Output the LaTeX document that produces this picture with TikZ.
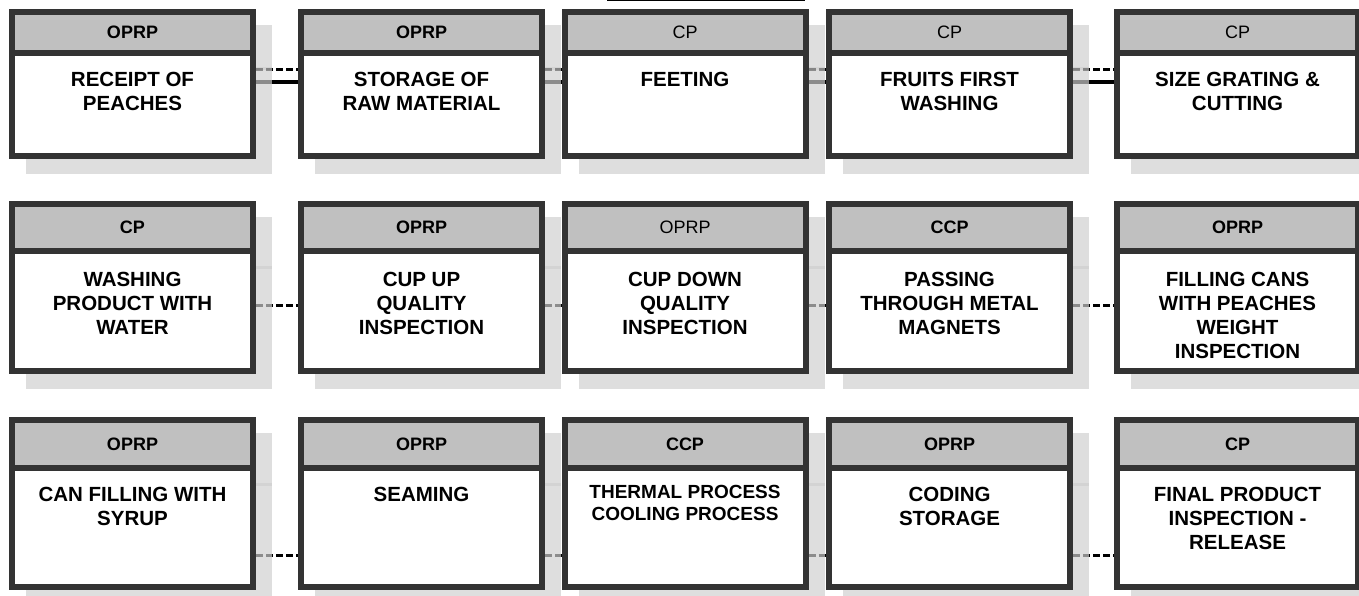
\documentclass[tikz,border=0pt]{standalone}
\usepackage{fontspec}
\setmainfont{Liberation Sans}
\usetikzlibrary{positioning,backgrounds,calc}
\definecolor{boxline}{RGB}{51,51,51}
\definecolor{headgray}{RGB}{192,192,192}
\tikzset{
  stepbox/.style={draw=boxline, line width=6pt, fill=white, minimum width=241pt, inner sep=0pt},
  headbox/.style={draw=boxline, line width=6pt, fill=headgray, minimum width=241pt, inner sep=0pt,
    anchor=north, font=\fontsize{18}{20}\selectfont},
  bodytext/.style={align=center, inner sep=0pt, font=\fontsize{20.5}{24}\selectfont\bfseries},
  smalltext/.style={bodytext, font=\fontsize{19}{22.5}\selectfont\bfseries},
  shadowfill/.style={fill=black!19, opacity=0.68},
  shadowband/.style={draw=black, line width=3pt, opacity=0.05},
  dashlink/.style={line width=3pt, dash pattern=on 7pt off 3pt},
  solidlink/.style={line width=3.5pt}
}

\begin{document}
\begin{tikzpicture}[x=1pt, y=-1pt]
  \useasboundingbox (0,0) rectangle (1359,596);
  \draw[line width=1.5pt] (607,0.75) -- (805,0.75);
  % first row
  \foreach \n/\x/\hd/\txt in {
      recv/132.5/\textbf{OPRP}/{RECEIPT OF\\PEACHES},
      store/421.5/\textbf{OPRP}/{STORAGE OF\\RAW MATERIAL},
      feet/685/CP/{FEETING},
      firstwash/949.5/CP/{FRUITS FIRST\\WASHING},
      cut/1237.5/CP/{SIZE GRATING \&\\CUTTING}} {
    \node[stepbox, minimum height=144pt] (\n) at (\x,84) {};
    \node[headbox, minimum height=41pt] (\n-h) at (\n.north) {\hd};
    \node[bodytext, below=16pt of \n-h] (\n-t) {\txt};
  }
  % second row
  \foreach \n/\x/\hd/\txt in {
      prodwash/132.5/\textbf{CP}/{WASHING\\PRODUCT WITH\\WATER},
      cupup/421.5/\textbf{OPRP}/{CUP UP\\QUALITY\\INSPECTION},
      cupdown/685/OPRP/{CUP DOWN\\QUALITY\\INSPECTION},
      magnet/949.5/\textbf{CCP}/{PASSING\\THROUGH METAL\\MAGNETS},
      cans/1237.5/\textbf{OPRP}/{FILLING CANS\\WITH PEACHES\\WEIGHT\\INSPECTION}} {
    \node[stepbox, minimum height=167pt] (\n) at (\x,287.5) {};
    \node[headbox, minimum height=47pt] (\n-h) at (\n.north) {\hd};
    \node[bodytext, below=18pt of \n-h] (\n-t) {\txt};
  }
  % third row
  \foreach \n/\x/\hd/\txt in {
      syrup/132.5/\textbf{OPRP}/{CAN FILLING WITH\\SYRUP},
      seam/421.5/\textbf{OPRP}/{SEAMING},
      coding/949.5/\textbf{OPRP}/{CODING\\STORAGE},
      release/1237.5/\textbf{CP}/{FINAL PRODUCT\\INSPECTION -\\RELEASE}} {
    \node[stepbox, minimum height=167pt] (\n) at (\x,503.5) {};
    \node[headbox, minimum height=48pt] (\n-h) at (\n.north) {\hd};
    \node[bodytext, below=16pt of \n-h] (\n-t) {\txt};
  }
  \node[stepbox, minimum height=167pt] (thermal) at (685,503.5) {};
  \node[headbox, minimum height=48pt] (thermal-h) at (thermal.north) {\textbf{CCP}};
  \node[smalltext, below=14pt of thermal-h] (thermal-t) {THERMAL PROCESS\\COOLING PROCESS};
  \begin{pgfonlayer}{background}
    \foreach \a/\b in {recv/store, store/feet, feet/firstwash, firstwash/cut} {
      \draw[dashlink] (\a.east |- 0,70) -- (\b.west |- 0,70);
      \draw[solidlink] (\a.east |- 0,82) -- (\b.west |- 0,82);
    }
    \foreach \a/\b in {prodwash/cupup, cupup/cupdown, cupdown/magnet, magnet/cans}
      \draw[dashlink] (\a.east |- 0,305) -- (\b.west |- 0,305);
    \foreach \a/\b in {syrup/seam, seam/thermal, thermal/coding, coding/release}
      \draw[dashlink] (\a.east |- 0,555) -- (\b.west |- 0,555);
    % shadows
    \foreach \n in {recv,store,feet,firstwash,cut,prodwash,cupup,cupdown,magnet,cans,syrup,seam,thermal,coding,release} {
      \fill[shadowfill] ([shift={(17,16)}]\n.north west) rectangle ([shift={(16,15)}]\n.south east);
      \draw[shadowband] ([shift={(17,13)}]\n-h.south west) -- ([shift={(16,13)}]\n-h.south east);
    }
  \end{pgfonlayer}
\end{tikzpicture}
\end{document}
